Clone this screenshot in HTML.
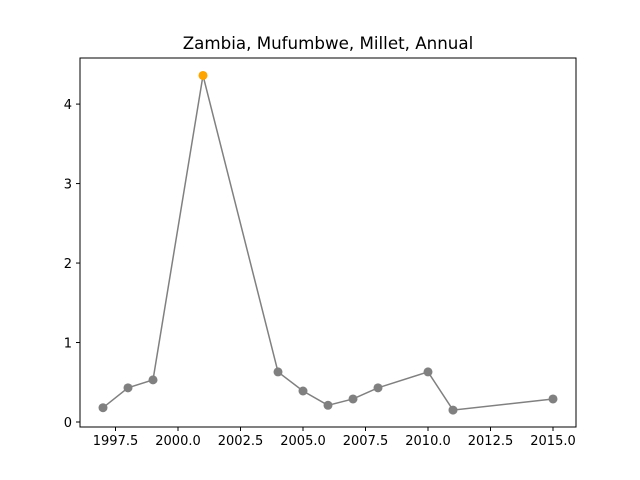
<!DOCTYPE html>
<html><head><meta charset="utf-8"><style>
body{margin:0;background:#fff;}
svg{display:block;font-family:"DejaVu Sans","Liberation Sans",sans-serif;}
</style></head><body>
<svg id="chart" width="640" height="480">
<rect width="640" height="480" fill="#fff"/>
<text x="328" y="49" text-anchor="middle" font-size="16.7">Zambia, Mufumbwe, Millet, Annual</text>
<g id="plot"></g>
<rect x="80" y="58" width="496" height="369" fill="none" stroke="#000" stroke-width="1"/>
</svg>
<script>
const years=[1997,1998,1999,2001,2004,2005,2006,2007,2008,2010,2011,2015];
const values=[0.18,0.43,0.53,4.36,0.63,0.39,0.21,0.29,0.43,0.63,0.15,0.29];
const highlight=[false,false,false,true,false,false,false,false,false,false,false,false];
const xTicks=[1997.5,2000,2002.5,2005,2007.5,2010,2012.5,2015];
const xTickLabels=["1997.5","2000.0","2002.5","2005.0","2007.5","2010.0","2012.5","2015.0"];
const yTicks=[0,1,2,3,4];
const yTickLabels=["0","1","2","3","4"];
const NS="http://www.w3.org/2000/svg";
const X0=80,X1=576,Y0=427,Y1=58,xmin=1996.08,xmax=2015.92,ymin=-0.063,ymax=4.58;
function xs(v){return X0+(v-xmin)/(xmax-xmin)*(X1-X0);}
function ys(v){return Y0-(v-ymin)/(ymax-ymin)*(Y0-Y1);}
const g=document.getElementById('plot');
function mk(t,a){const e=document.createElementNS(NS,t);for(const k in a)e.setAttribute(k,a[k]);g.appendChild(e);return e;}
xTicks.forEach((t,i)=>{
 const l=mk('line',{x1:xs(t),x2:xs(t),y1:Y0,y2:Y0+4,stroke:'#000'});
 
 
 const tx=mk('text',{x:xs(t),y:Y0+18,'text-anchor':'middle','font-size':'13'});
 tx.textContent=xTickLabels[i];
 
 
});
yTicks.forEach((t,i)=>{
 const l=mk('line',{x1:X0-4,x2:X0,y1:ys(t),y2:ys(t),stroke:'#000'});
 
 
 const tx=mk('text',{x:X0-8,y:ys(t)+5,'text-anchor':'end','font-size':'13'});
 tx.textContent=yTickLabels[i];
 
 
});
const pts=years.map((y,i)=>xs(y)+','+ys(values[i])).join(' ');
const pl=mk('polyline',{points:pts,fill:'none',stroke:'#808080','stroke-width':'1.5'});


years.forEach((y,i)=>{
 const c=mk('circle',{cx:xs(y),cy:ys(values[i]),r:4.5,fill:highlight[i]?'#ffa500':'#808080'});
 
 
});
</script>
</body></html>
